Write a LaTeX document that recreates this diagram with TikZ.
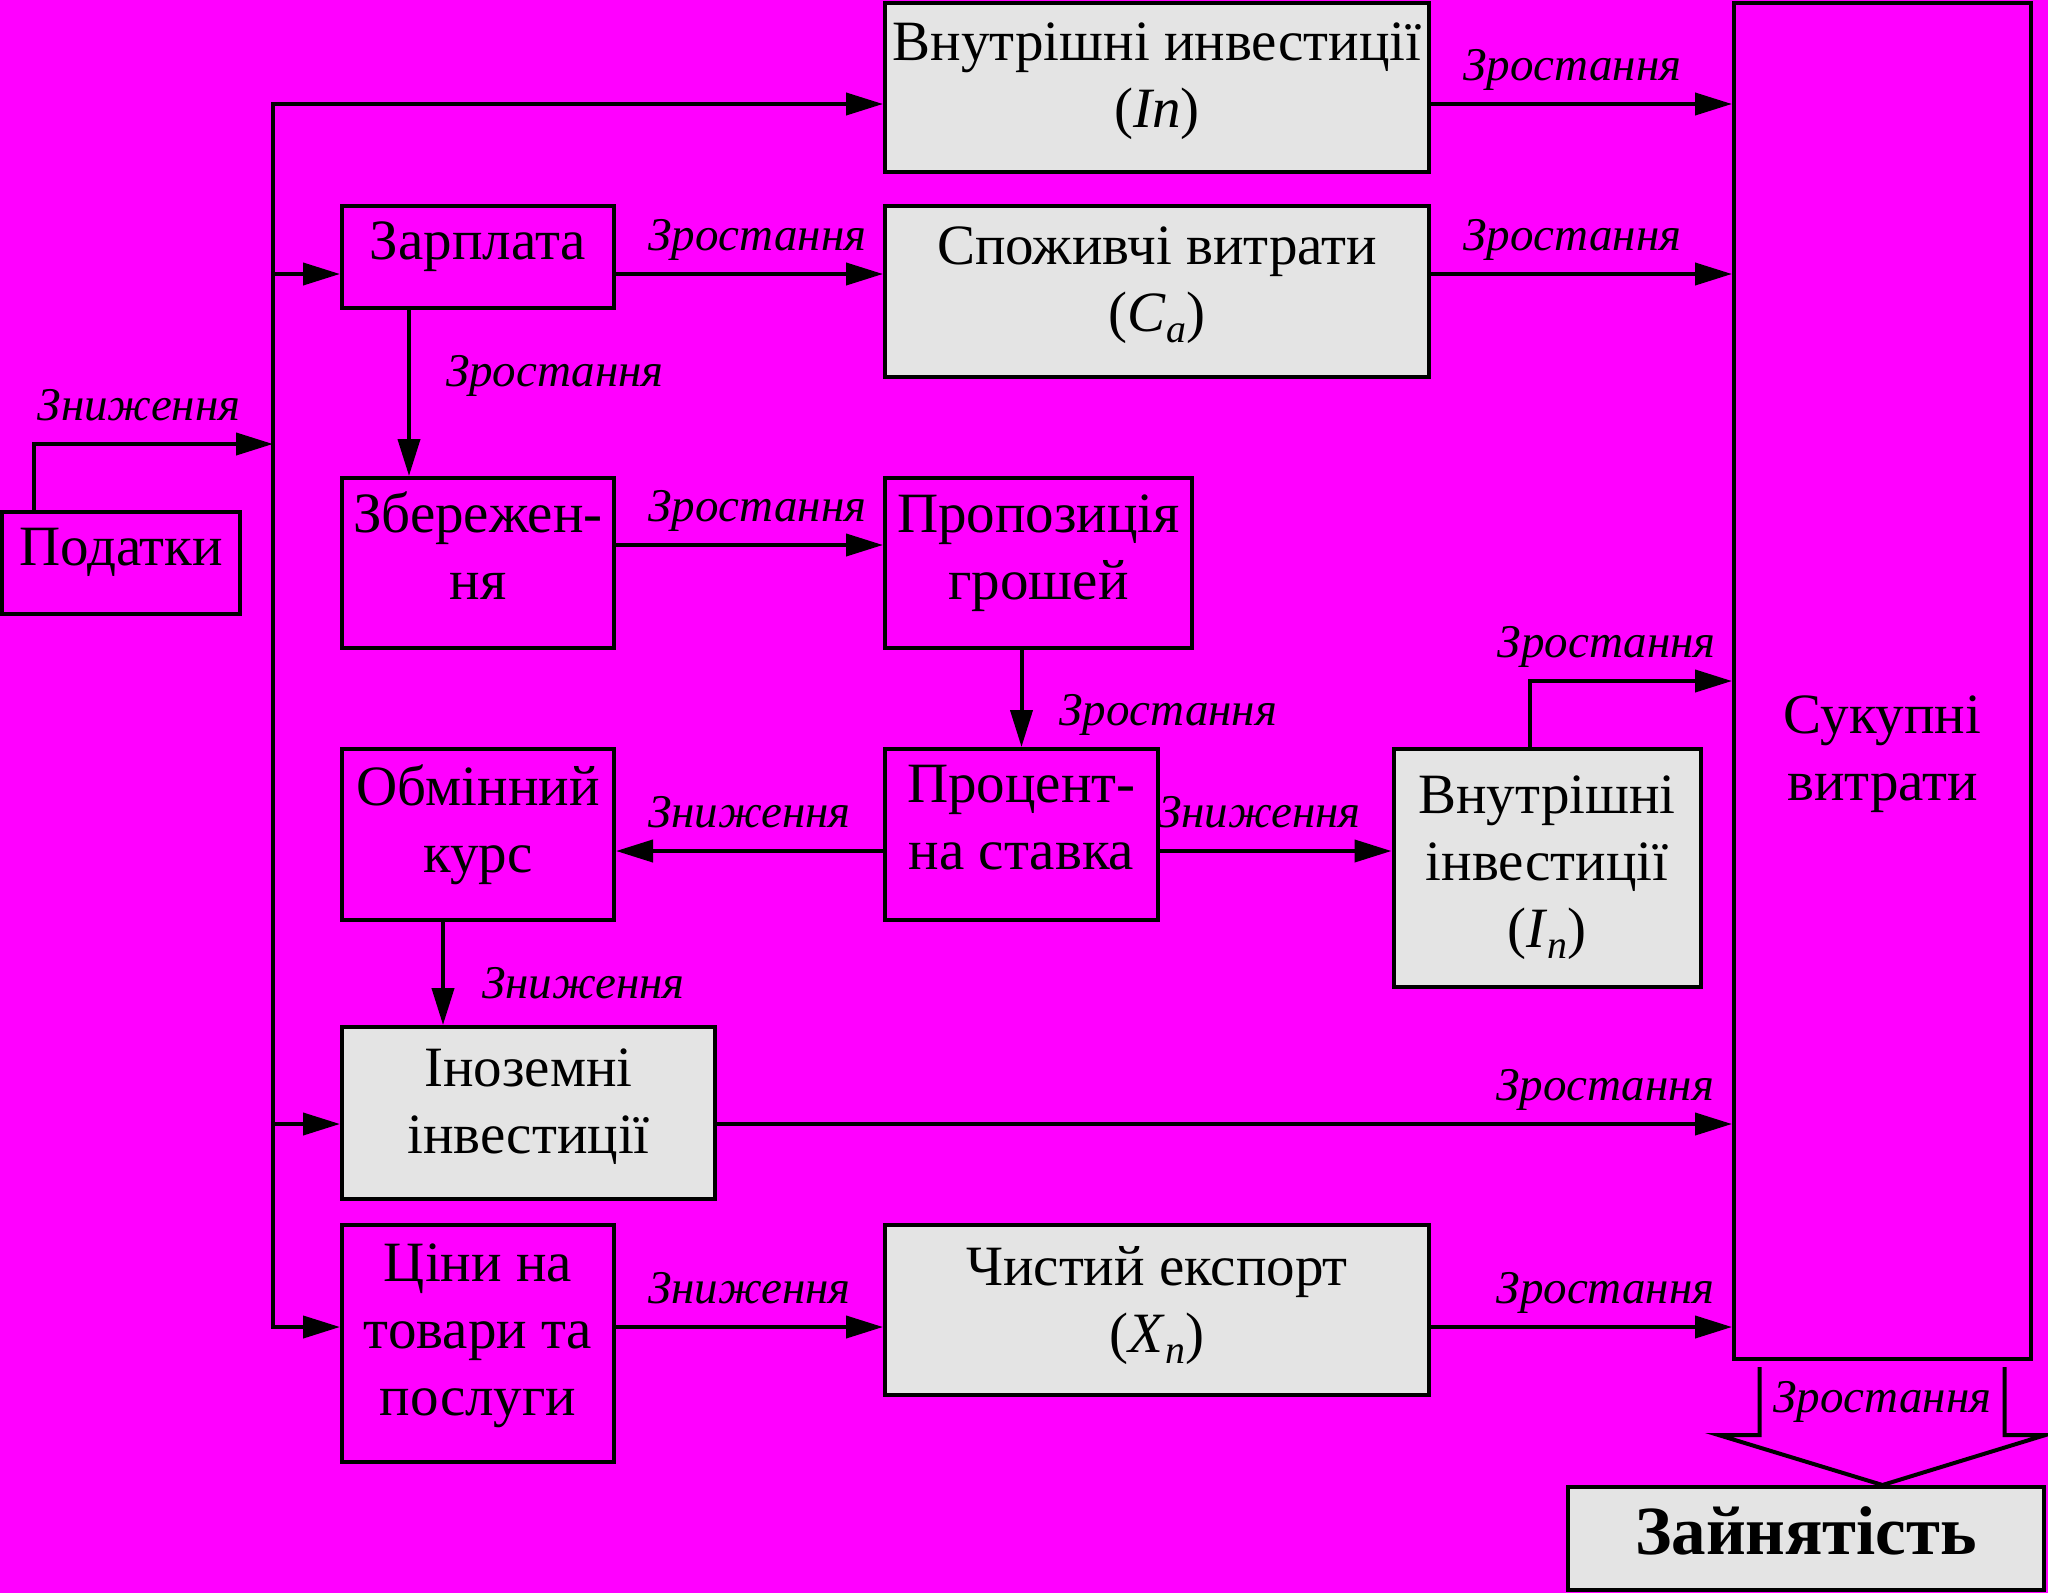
\documentclass[tikz,border=0pt]{standalone}
\usepackage{fontspec}
\setmainfont{Liberation Serif}
\usetikzlibrary{arrows.meta,calc}
\definecolor{fon}{RGB}{255,0,255}
\definecolor{sirij}{RGB}{228,228,228}
\newcommand{\tekstshryft}{\fontsize{57}{67}\selectfont}
\newcommand{\nadpysshryft}{\fontsize{47}{50}\selectfont\itshape}
\newcommand{\zbshryft}{\fontsize{69}{80}\selectfont\bfseries}
\tikzset{
  blok/.style 2 args={draw, inner sep=0pt, minimum width=#1, minimum height=#2},
  sirblok/.style 2 args={blok={#1}{#2}, fill=sirij},
  tekst/.style={font=\tekstshryft, align=center, inner sep=0pt},
  nadpys/.style={font=\nadpysshryft, inner sep=0pt, anchor=base, yshift=24pt},
  bokom/.style={font=\nadpysshryft, inner sep=0pt, anchor=base west, xshift=#1},
}
\begin{document}
\begin{tikzpicture}[x=1pt,y=-1pt,line width=4pt,line cap=rect,>={Triangle[length=37pt,width=22pt]}]
\fill[fon] (0,0) rectangle (2048,1593);
\useasboundingbox (0,0) rectangle (2048,1593);
% bloky
\node[sirblok={544pt}{169pt},label={[tekst,yshift=6pt]center:{Внутрішні инвестиції\\(\textit{In})}}] (vnin) at (1157,87.5) {};
\node[blok={272pt}{102pt},label={[tekst,yshift=10pt]center:Зарплата}] (zarp) at (478,257) {};
\node[sirblok={544pt}{171pt},label={[tekst,yshift=6pt]center:{Споживчі витрати\\(\textit{C}\textsubscript{\textit{a}})}}] (spozh) at (1157,291.5) {};
\node[blok={238pt}{102pt},label={[tekst,yshift=11pt]center:Податки}] (podat) at (121,563) {};
\node[blok={272pt}{170pt},label={[tekst,yshift=17pt]center:{Збережен-\\ня}}] (zber) at (478,563) {};
\node[blok={307pt}{170pt},label={[tekst,yshift=10pt]center:{Пропозиція\\грошей}}] (prop) at (1038.5,563) {};
\node[blok={272pt}{171pt},label={[tekst,yshift=10pt]center:{Обмінний\\курс}}] (obmin) at (478,834.5) {};
\node[blok={273pt}{171pt},label={[tekst,yshift=17pt]center:{Процент-\\на ставка}}] (proc) at (1021.5,834.5) {};
\node[sirblok={307pt}{238pt},label={[tekst]center:{Внутрішні\\інвестиції\\(\textit{I}\textsubscript{\textit{n}})}}] (vnin2) at (1547,868) {};
\node[sirblok={373pt}{172pt},label={[tekst,yshift=6pt]center:{Іноземні\\інвестиції}}] (inoz) at (528.5,1113) {};
\node[blok={272pt}{237pt},label={[tekst,yshift=8pt]center:{Ціни на\\товари та\\послуги}}] (tsiny) at (478,1343.5) {};
\node[sirblok={544pt}{170pt},label={[tekst,yshift=4pt]center:{Чистий експорт\\(\textit{X}\textsubscript{\textit{n}})}}] (chyst) at (1157,1310) {};
\node[blok={297pt}{1356pt},label={[tekst,yshift=-73pt]center:{Сукупні\\витрати}}] (sukup) at (1882.5,681) {};
\node[sirblok={476pt}{103pt},label={[tekst,font=\zbshryft,yshift=8pt]center:Зайнятість}] (zayn) at (1806,1538.5) {};
% tochky
\coordinate (r1) at (273,104);
\coordinate (r2) at (273,274);
\coordinate (rp) at (273,444);
\coordinate (r3) at (273,545);
\coordinate (r4) at (273,851);
\coordinate (r5) at (273,1124);
\coordinate (r6) at (273,1327);
\coordinate (pv) at ([xshift=34pt]podat.north west);
\coordinate (k1) at (409,0);
\coordinate (k2) at (443,0);
\coordinate (k3) at (1530,0);
% strilky
\draw[->] (r6) -- (r1) -- (vnin.west |- r1);
\draw[->] (r2) -- (zarp.west |- r2);
\draw[->] (r5) -- (inoz.west |- r5);
\draw[->] (r6) -- (tsiny.west |- r6);
\draw[->] (pv) |- node[nadpys,pos=0.72]{Зниження} (rp);
\draw[->] (vnin.east |- r1) -- node[nadpys,pos=0.47]{Зростання} (sukup.west |- r1);
\draw[->] (zarp.east |- r2) -- node[nadpys,pos=0.53]{Зростання} (spozh.west |- r2);
\draw[->] (spozh.east |- r2) -- node[nadpys,pos=0.47]{Зростання} (sukup.west |- r2);
\draw[->] (zarp.south -| k1) -- node[bokom=35pt,pos=0.46]{Зростання} (zber.north -| k1);
\draw[->] (zber.east |- r3) -- node[nadpys,pos=0.53]{Зростання} (prop.west |- r3);
\draw[->] (prop.south -| proc.north) -- node[bokom=36pt,pos=0.78]{Зростання} (proc.north);
\draw[->] (proc.west |- r4) -- node[nadpys,pos=0.5]{Зниження} (obmin.east |- r4);
\draw[->] (proc.east |- r4) -- node[nadpys,pos=0.43]{Зниження} (vnin2.west |- r4);
\draw[->] (vnin2.north -| k3) |- node[nadpys,pos=0.69]{Зростання} (sukup.west);
\draw[->] (obmin.south -| k2) -- node[bokom=37pt,pos=0.74]{Зниження} (inoz.north -| k2);
\draw[->] (inoz.east |- r5) -- node[nadpys,pos=0.875]{Зростання} (sukup.west |- r5);
\draw[->] (tsiny.east |- r6) -- node[nadpys,pos=0.5]{Зниження} (chyst.west |- r6);
\draw[->] (chyst.east |- r6) -- node[nadpys,pos=0.58]{Зростання} (sukup.west |- r6);
% velyka strilka
\draw[line cap=butt] ($(sukup.south)+(-123,6)$) -- ++(0,68) -- ++(-41,0) -- (sukup.south |- zayn.north) -- ($(sukup.south)+(163,74)$) -- ++(-41,0) -- ++(0,-68);
\node[font=\nadpysshryft, anchor=base] (zrost) at ($(sukup.south)+(0,51)$) {Зростання};
\end{tikzpicture}
\end{document}
